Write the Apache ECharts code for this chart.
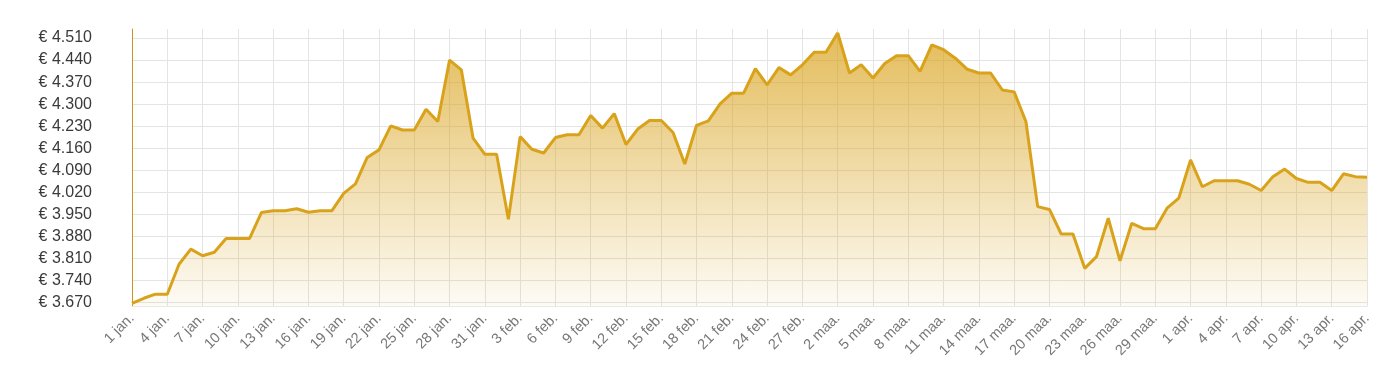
<!DOCTYPE html>
<html>
<head>
<meta charset="utf-8">
<script src="https://cdn.jsdelivr.net/npm/echarts@6/dist/echarts.min.js"></script>
<style>
html,body{margin:0;padding:0;background:#fff;}
#chart{width:1390px;height:372px;}
</style>
</head>
<body>
<div id="chart"></div>
<script>
// Daily dates 1 jan. – 16 apr.
var months = [["jan.",31],["feb.",28],["maa.",31],["apr.",16]];
var categories = [];
months.forEach(function(m){ for (var d=1; d<=m[1]; d++) categories.push(d + " " + m[0]); });

// Price in euro
var prices = [
  3668,3684,3697,3697,3792,3840,3819,3830,3874,3874,
  3874,3956,3962,3962,3968,3957,3962,3962,4017,4047,
  4131,4155,4231,4218,4218,4284,4245,4440,4409,4192,
  4141,4141,3935,4197,4157,4145,4194,4203,4203,4264,
  4224,4270,4172,4221,4248,4248,4210,4110,4233,4247,
  4301,4335,4335,4413,4361,4416,4393,4425,4465,4465,
  4526,4399,4425,4383,4429,4454,4454,4404,4488,4473,
  4446,4411,4399,4399,4345,4339,4245,3975,3966,3888,
  3888,3779,3816,3938,3803,3922,3905,3905,3970,4002,
  4123,4038,4057,4057,4057,4046,4026,4070,4094,4064,
  4052,4052,4026,4079,4070,4068
];

// Y tick labels
var yTicks = [3670,3740,3810,3880,3950,4020,4090,4160,4230,4300,4370,4440,4510];

function fmtEuro(v){
  var s = String(Math.round(v));
  return "€ " + s.replace(/\B(?=(\d{3})+(?!\d))/g, ".");
}

var chart = echarts.init(document.getElementById('chart'), null, {renderer:'canvas'});
chart.setOption({
  animation:false,
  grid:{left:132,right:23,top:29,bottom:66,containLabel:false},
  xAxis:{
    type:'category',
    data:categories,
    boundaryGap:false,
    axisLine:{show:true,lineStyle:{color:'#e8e8e8',width:1}},
    axisTick:{show:false},
    axisLabel:{interval:2,rotate:45,color:'#777',fontSize:14.5,margin:10,
      fontFamily:'"Liberation Sans", Arial, sans-serif'},
    splitLine:{show:true,interval:2,lineStyle:{color:'#e4e4e4',width:1}}
  },
  yAxis:{
    type:'value',
    min:3659.5,
    max:4538.6,
    axisLine:{show:true,lineStyle:{color:'#C8961E',width:1}},
    axisTick:{show:false,customValues:yTicks},
    axisLabel:{customValues:yTicks,formatter:fmtEuro,color:'#3a3a3a',fontSize:16,margin:40,
      fontFamily:'"Liberation Sans", Arial, sans-serif'},
    splitLine:{show:true,lineStyle:{color:'#e4e4e4',width:1}}
  },
  series:[{
    type:'line',
    data:prices,
    symbol:'none',
    lineStyle:{color:'#D9A21B',width:3},
    itemStyle:{color:'#D9A21B'},
    areaStyle:{
      opacity:1,
      color:new echarts.graphic.LinearGradient(0,0,0,1,[
        {offset:0,color:'rgba(217,162,27,0.72)'},
        {offset:1,color:'rgba(217,162,27,0.04)'}
      ]),
      origin:'start'
    }
  }]
});
</script>
</body>
</html>
